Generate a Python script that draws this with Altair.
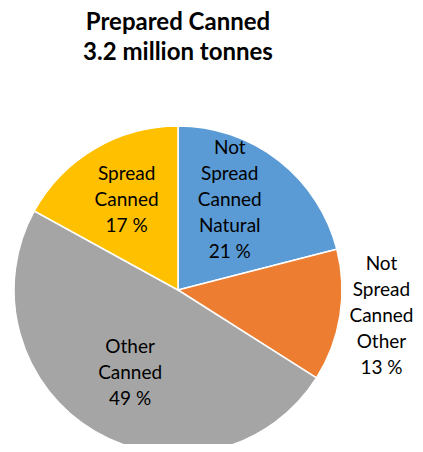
import math
import altair as alt
import pandas as pd

categories = ["Not Spread Canned Natural", "Not Spread Canned Other", "Other Canned", "Spread Canned"]
shares = [21, 13, 49, 17]
colors = ["#5B9BD5", "#ED7D31", "#A5A5A5", "#FFC000"]
title_lines = ["Prepared Canned", "3.2 million tonnes"]

# label placement (style): radial distance and small offsets per slice
label_radius = [104, 206, 96, 103]
label_dx = [-12, 0, 1, 1]
label_dy = [-8, -6, 0, -1]
LH = 26

df = pd.DataFrame({
    "category": categories,
    "share": shares,
    "order": list(range(len(categories))),
    "label": [c.replace(" ", "\n") + f"\n{v} %" for c, v in zip(categories, shares)],
    "lr": label_radius,
})

PAD_TOP = 12
CX, CY = 170, 282 - PAD_TOP
FONT = "Lato"
total = sum(shares)

arcs = alt.Chart(df).mark_arc(radius=164, stroke="white", strokeWidth=1.5).encode(
    theta=alt.Theta("share:Q", stack=True),
    order=alt.Order("order:Q"),
    x=alt.value(CX),
    y=alt.value(CY),
    color=alt.Color("category:N", scale=alt.Scale(domain=categories, range=colors), legend=None),
)

layers = [arcs]
for i, cat in enumerate(categories):
    n_lines = df["label"][i].count("\n") + 1
    t = alt.Chart(df).transform_window(
        cum="sum(share)", sort=[alt.SortField("order")], frame=[None, 0]
    ).transform_calculate(
        mid="datum.cum - datum.share / 2"
    ).transform_filter(
        alt.datum.category == cat
    ).mark_text(
        font=FONT, fontSize=19, lineBreak="\n", lineHeight=LH,
        align="center", baseline="middle", color="#000000",
        dx=label_dx[i], dy=label_dy[i] - (n_lines - 1) * LH / 2,
    ).encode(
        theta=alt.Theta("mid:Q", stack=None, scale=alt.Scale(domain=[0, total], range=[0, 2 * math.pi])),
        x=alt.value(CX),
        y=alt.value(CY),
        radius=alt.Radius("lr:Q", scale=None),
        text="label:N",
    )
    layers.append(t)

title_df = pd.DataFrame({"t": title_lines, "row": [0, 1]})
for r in range(len(title_lines)):
    tl = alt.Chart(title_df).transform_filter(alt.datum.row == r).mark_text(
        font=FONT, fontSize=24, fontWeight="bold",
        align="center", baseline="middle", color="#000000",
    ).encode(x=alt.value(CX), y=alt.value(15 - PAD_TOP + 30 * r), text="t:N")
    layers.append(tl)

chart = alt.layer(*layers).properties(
    width=407, height=436 - PAD_TOP,
    autosize=alt.AutoSizeParams(type="none"),
    padding={"top": PAD_TOP, "left": 0, "right": 0, "bottom": 0},
).resolve_scale(theta="independent").configure_view(stroke=None)

chart.save("out.html", embed_options={"renderer": "svg", "actions": False})
